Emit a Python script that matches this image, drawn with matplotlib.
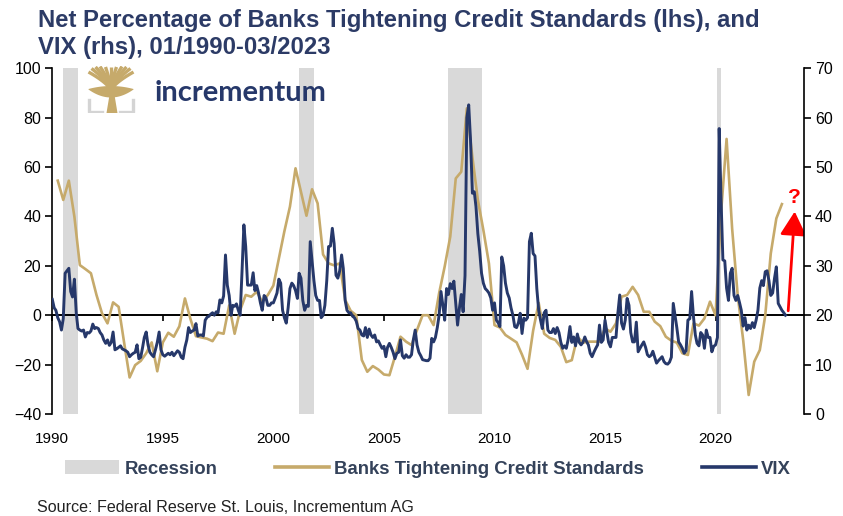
import numpy as np
import pandas as pd
import matplotlib
matplotlib.use("Agg")
import matplotlib.pyplot as plt
import matplotlib.dates as mdates
from matplotlib.patches import Patch, FancyArrowPatch, Polygon
from matplotlib.lines import Line2D

SANS = ["Liberation Sans", "DejaVu Sans"]

GOLD = "#c6aa6b"
NAVY = "#26386a"
TITLE_C = "#2c3b66"
LEGEND_C = "#34425a"
REC_C = "#d9d9d9"

# ----------------------------
# Data
# ----------------------------
# net % of banks tightening credit standards, quarterly from 1990-04
banks = [
    54.5, 46.7, 54.5,                 # 1990
    39.9, 20.3, 18.7, 17.0,           # 1991
    8.2, 0.8, -3.3, 5.2,              # 1992
    3.4, -11.0, -25.2, -20.2,         # 1993
    -18.5, -15.4, -11.0, -22.7,       # 1994
    -11.0, -7.1, -8.7, -4.5,          # 1995
    6.8, -1.5, -8.5, -9.0,            # 1996
    -9.5, -10.5, -7.0, -7.5,          # 1997
    4.0, -7.5, 2.0, 8.2,              # 1998
    7.5, 9.5, 5.5, 8.2,               # 1999
    12.0, 23.0, 34.0, 44.0,           # 2000
    59.5, 50.0, 40.3, 51.0,           # 2001
    45.3, 24.6, 21.0, 20.2,           # 2002
    21.0, 6.2, 1.8, 0.0,              # 2003
    -18.1, -22.9, -20.6, -22.0,       # 2004
    -24.0, -24.3, -16.8, -8.7,        # 2005
    -10.7, -12.1, -6.0, 0.0,          # 2006
    0.0, -4.0, 8.9, 19.7,             # 2007
    31.8, 55.4, 58.1, 83.8,           # 2008
    64.0, 46.7, 34.5, 21.0,           # 2009
    -4.0, -5.0, -8.0, -9.5,           # 2010
    -11.0, -16.0, -21.7, -6.3,        # 2011
    5.0, -7.5, -9.2, -10.0,           # 2012
    -12.8, -19.0, -18.2, -8.7,        # 2013
    -11.1, -10.7, -10.7, -10.7,       # 2014
    -5.3, -6.7, -3.3, 7.5,            # 2015
    8.2, 11.5, 8.2, 1.4,              # 2016
    1.4, -2.6, -4.4, -8.7,            # 2017
    -10.3, -11.1, -15.4, -16.1,       # 2018
    -3.3, -4.2, -1.3, 5.5,            # 2019
    0.0, 41.5, 71.4, 35.0,            # 2020
    8.0, -10.0, -32.3, -18.8,         # 2021
    -14.1, 0.0, 25.0, 39.2,           # 2022
    45.0,                             # 2023
]

# VIX, monthly from 1990-01
vix = [
    23.2, 21.5, 21.0, 19.5, 18.7, 17.0, 19.3, 28.5, 29.0, 29.5, 24.8, 23.7,  # 1990
    27.3, 20.4, 17.3, 17.0, 16.8, 17.0, 15.6, 16.5, 16.4, 16.8, 18.2, 17.3,  # 1991
    17.5, 17.3, 16.5, 16.0, 15.0, 14.3, 15.0, 13.9, 14.5, 16.6, 13.0, 13.2,  # 1992
    13.5, 13.8, 13.2, 13.0, 12.8, 12.5, 11.6, 12.0, 12.3, 12.5, 14.0, 11.2,  # 1993
    11.5, 13.5, 15.5, 16.6, 14.0, 12.5, 12.0, 11.6, 13.0, 14.5, 16.6, 13.0,  # 1994
    12.0, 11.7, 12.0, 12.3, 12.0, 12.5, 11.8, 12.3, 12.8, 12.5, 11.5, 11.2,  # 1995
    13.5, 15.0, 17.5, 16.5, 16.8, 17.0, 18.3, 15.8, 16.0, 16.0, 15.8, 19.0,  # 1996
    19.6, 19.8, 20.2, 20.5, 20.0, 20.7, 20.5, 23.1, 22.5, 23.9, 32.2, 26.1,  # 1997
    24.0, 20.0, 22.0, 21.8, 22.3, 21.0, 20.0, 28.8, 38.3, 33.9, 26.1, 26.1,  # 1998
    26.1, 28.6, 25.0, 26.0, 24.5, 22.5, 21.0, 24.0, 23.5, 22.0, 22.0, 22.5,  # 1999
    22.5, 23.5, 24.5, 27.3, 26.5, 21.0, 19.5, 18.4, 21.5, 25.4, 26.5, 26.0,  # 2000
    25.0, 23.4, 28.5, 27.5, 23.0, 21.0, 22.0, 21.8, 34.9, 31.0, 27.0, 24.0,  # 2001
    23.0, 23.0, 19.5, 20.0, 22.0, 27.0, 33.9, 34.0, 37.6, 34.5, 28.1, 27.5,  # 2002
    29.0, 32.2, 29.5, 23.0, 21.0, 20.5, 20.5, 19.8, 19.5, 18.8, 17.3, 17.0,  # 2003
    16.0, 15.8, 17.5, 15.5, 17.2, 16.0, 15.5, 16.0, 14.6, 14.8, 14.0, 13.3,  # 2004
    13.7, 11.6, 13.5, 14.3, 13.5, 12.5, 11.2, 12.3, 12.5, 15.0, 11.8, 11.3,  # 2005
    12.0, 11.5, 11.5, 12.0, 15.0, 17.0, 14.0, 12.5, 11.8, 11.0, 10.9, 10.8,  # 2006
    10.8, 11.3, 15.3, 14.6, 15.5, 17.5, 20.0, 24.8, 22.0, 19.0, 25.4, 24.2,  # 2007
    26.4, 25.4, 26.9, 22.5, 18.0, 21.5, 24.2, 20.7, 28.0, 60.0, 62.6, 55.5,  # 2008
    44.7, 45.0, 42.0, 36.5, 33.0, 28.5, 26.5, 25.4, 25.0, 24.5, 23.5, 21.0,  # 2009
    22.5, 19.0, 18.5, 17.7, 31.8, 30.0, 26.5, 24.5, 23.5, 21.5, 20.0, 17.7,  # 2010
    17.5, 18.5, 20.4, 16.3, 19.4, 19.0, 19.5, 34.9, 36.6, 32.5, 32.0, 25.4,  # 2011
    21.0, 19.0, 17.3, 20.5, 21.0, 17.0, 16.5, 16.5, 17.3, 16.3, 17.5, 16.5,  # 2012
    14.5, 13.3, 13.8, 13.3, 15.0, 17.7, 14.5, 15.6, 13.8, 16.2, 14.5, 14.0,  # 2013
    14.5, 15.6, 14.7, 14.0, 12.3, 11.6, 12.5, 13.3, 14.0, 18.0, 14.5, 15.0,  # 2014
    19.0, 16.5, 14.5, 13.6, 15.5, 15.5, 15.5, 20.4, 24.1, 18.4, 17.2, 19.0,  # 2015
    23.4, 22.0, 16.5, 14.6, 14.6, 18.6, 12.6, 13.3, 14.0, 14.6, 13.5, 12.0,  # 2016
    11.6, 11.9, 12.7, 11.5, 10.3, 10.8, 11.2, 11.6, 10.6, 10.2, 10.1, 10.5,  # 2017
    11.5, 22.4, 20.0, 17.5, 14.6, 14.0, 13.3, 12.3, 12.8, 19.0, 19.3, 24.8,  # 2018
    19.7, 16.0, 14.3, 13.8, 16.5, 16.0, 13.3, 17.0, 15.5, 15.5, 12.6, 13.7,  # 2019
    14.0, 15.5, 57.8, 43.3, 31.2, 31.0, 25.5, 23.0, 28.5, 29.5, 24.0, 23.0,  # 2020
    24.0, 22.5, 21.0, 17.8, 19.5, 17.0, 18.0, 17.3, 18.5, 17.5, 19.0, 21.0,  # 2021
    25.5, 27.0, 26.0, 28.8, 29.0, 27.0, 24.0, 24.5, 27.5, 29.8, 22.4, 21.7,  # 2022
    21.0, 20.5, 20.0,                                                        # 2023
]

rec_start = ["1990-07-01", "2001-03-01", "2007-12-01", "2020-02-01"]
rec_end = ["1991-03-01", "2001-11-01", "2009-06-01", "2020-04-01"]

tick_years = [1990, 1995, 2000, 2005, 2010, 2015, 2020]

bank_x = mdates.date2num(pd.date_range("1990-04-01", periods=len(banks), freq="QS"))
vix_x = mdates.date2num(pd.date_range("1990-01-01", periods=len(vix), freq="MS"))
year_x = mdates.date2num(pd.to_datetime([f"{y}-01-01" for y in tick_years]))

# ----------------------------
# Figure / axes
# ----------------------------
W, H = 843, 516
fig = plt.figure(figsize=(W / 100, H / 100), dpi=100)
ax_l, ax_r, ax_t, ax_b = 52.3, 804, 68.3, 414
ax = fig.add_axes([ax_l / W, 1 - ax_b / H, (ax_r - ax_l) / W, (ax_b - ax_t) / H])

for s, e in zip(rec_start, rec_end):
    ax.axvspan(mdates.datestr2num(s), mdates.datestr2num(e), color=REC_C, lw=0, zorder=0)

ax.plot(bank_x, banks, color=GOLD, lw=1.9, zorder=3, solid_joinstyle="round")

ax.set_xlim(mdates.datestr2num("1990-01-01"), mdates.datestr2num("2024-01-01"))
ax.set_ylim(-40, 100)
ax.set_yticks(range(-40, 101, 20))
ax.set_xticks(year_x)
ax.spines["top"].set_visible(False)
ax.spines["right"].set_visible(False)
ax.spines["bottom"].set_position(("data", 0))
ax.spines["bottom"].set_linewidth(1.4)
ax.spines["left"].set_linewidth(1.2)
ax.tick_params(axis="x", direction="out", length=4, width=1.2, labelbottom=False)
ax.tick_params(axis="y", direction="out", length=5, width=1.2, labelsize=11.5, pad=3)
for lab in ax.get_yticklabels():
    lab.set_family(SANS)

# year labels at the foot of the plot
sec = ax.secondary_xaxis("bottom")
sec.set_xticks(year_x)
sec.set_xticklabels([str(y) for y in tick_years], family=SANS, fontsize=11)
sec.tick_params(length=0, pad=13)
sec.spines["bottom"].set_visible(False)

# VIX on the right axis
ax2 = ax.twinx()
ax2.plot(vix_x, vix, color=NAVY, lw=2.1, zorder=4, solid_joinstyle="round")
ax2.set_ylim(0, 70)
ax2.set_yticks(range(0, 71, 10))
for side in ["top", "bottom", "left"]:
    ax2.spines[side].set_visible(False)
ax2.spines["right"].set_linewidth(1.2)
ax2.tick_params(axis="y", direction="out", length=5, width=1.2, labelsize=11.5, pad=3)
for lab in ax2.get_yticklabels():
    lab.set_family(SANS)

# red arrow with question mark
arrow = FancyArrowPatch((mdates.datestr2num("2023-04-15"), 1.8),
                        (mdates.datestr2num("2023-08-01"), 42),
                        arrowstyle="-|>,head_length=0.9,head_width=0.5",
                        mutation_scale=16, lw=2, color="#ff0000",
                        shrinkA=0, shrinkB=0, zorder=6)
ax.add_patch(arrow)
ax.text(mdates.datestr2num("2023-07-20"), 47.5, "?", color="#ff0000", fontsize=15,
        fontweight="bold", family=SANS, ha="center", va="center", zorder=6)

# ----------------------------
# Logo (tree + wordmark)
# ----------------------------
lg = fig.add_axes([86 / W, 1 - 113 / H, 50 / W, 47 / H])
lg.set_xlim(0, 50)
lg.set_ylim(47, 0)
lg.axis("off")
lg.add_patch(Polygon([(20.5, 47), (31.5, 47), (28.5, 29), (23.5, 29)], closed=True, color=GOLD, lw=0))
bx = np.linspace(2.5, 47.5, 40)
bowl = np.vstack([np.c_[bx, 20 + 3 * ((bx - 25) / 22.5) ** 2],
                  np.c_[bx[::-1], 31.5 - 8 * ((bx[::-1] - 25) / 22.5) ** 2]])
lg.add_patch(Polygon(bowl, closed=True, color=GOLD, lw=0))
tips = [(2.5, 6), (5.5, 2.5), (9.5, 1), (14, 0.5), (19.5, 1), (25, 0.5),
        (30.5, 1), (36, 0.5), (40.5, 1), (44.5, 2.5), (47.5, 6)]
for tx, ty in tips:
    t = np.linspace(0, 1, 20)
    cx = 25 + (tx - 25) * t ** 1.5
    cy = 25 + (ty - 25) * t
    lg.plot(cx, cy, color=GOLD, lw=2.4, solid_capstyle="butt")
lg.plot([3.3, 3.3, 15.7], [34, 45.7, 45.7], color="#d4d4d4", lw=2.4)
lg.plot([34, 46.7, 46.7], [45.7, 45.7, 34], color="#d4d4d4", lw=2.4)

fig.text(155 / W, 1 - 101 / H, "incrementum", color=NAVY, fontsize=21,
         family=["Lato", "DejaVu Sans"], fontweight="bold", va="baseline", ha="left")

# ----------------------------
# Title, legend, source
# ----------------------------
fig.text(38 / W, 1 - 27 / H, "Net Percentage of Banks Tightening Credit Standards (lhs), and",
         color=TITLE_C, fontsize=17.2, family=SANS, fontweight="bold", va="baseline")
fig.text(38 / W, 1 - 54 / H, "VIX (rhs), 01/1990-03/2023",
         color=TITLE_C, fontsize=17.2, family=SANS, fontweight="bold", va="baseline")

handles = [Patch(facecolor=REC_C, edgecolor="none"),
           Line2D([], [], color=GOLD, lw=2.6),
           Line2D([], [], color=NAVY, lw=2.6)]
labels = ["Recession", "Banks Tightening Credit Standards", "VIX"]
fig.legend(handles, labels, loc="center", bbox_to_anchor=(428 / W, 1 - 469 / H),
           ncol=3, frameon=False, handlelength=2.9, handletextpad=0.27,
           columnspacing=3.1, labelcolor=LEGEND_C,
           prop={"family": SANS, "weight": "bold", "size": 13.4})

fig.text(37 / W, 1 - 507 / H, "Source: Federal Reserve St. Louis, Incrementum AG",
         color="#222222", fontsize=11.6, family=SANS, va="center", ha="left")

fig.savefig("out.png", dpi=100)
